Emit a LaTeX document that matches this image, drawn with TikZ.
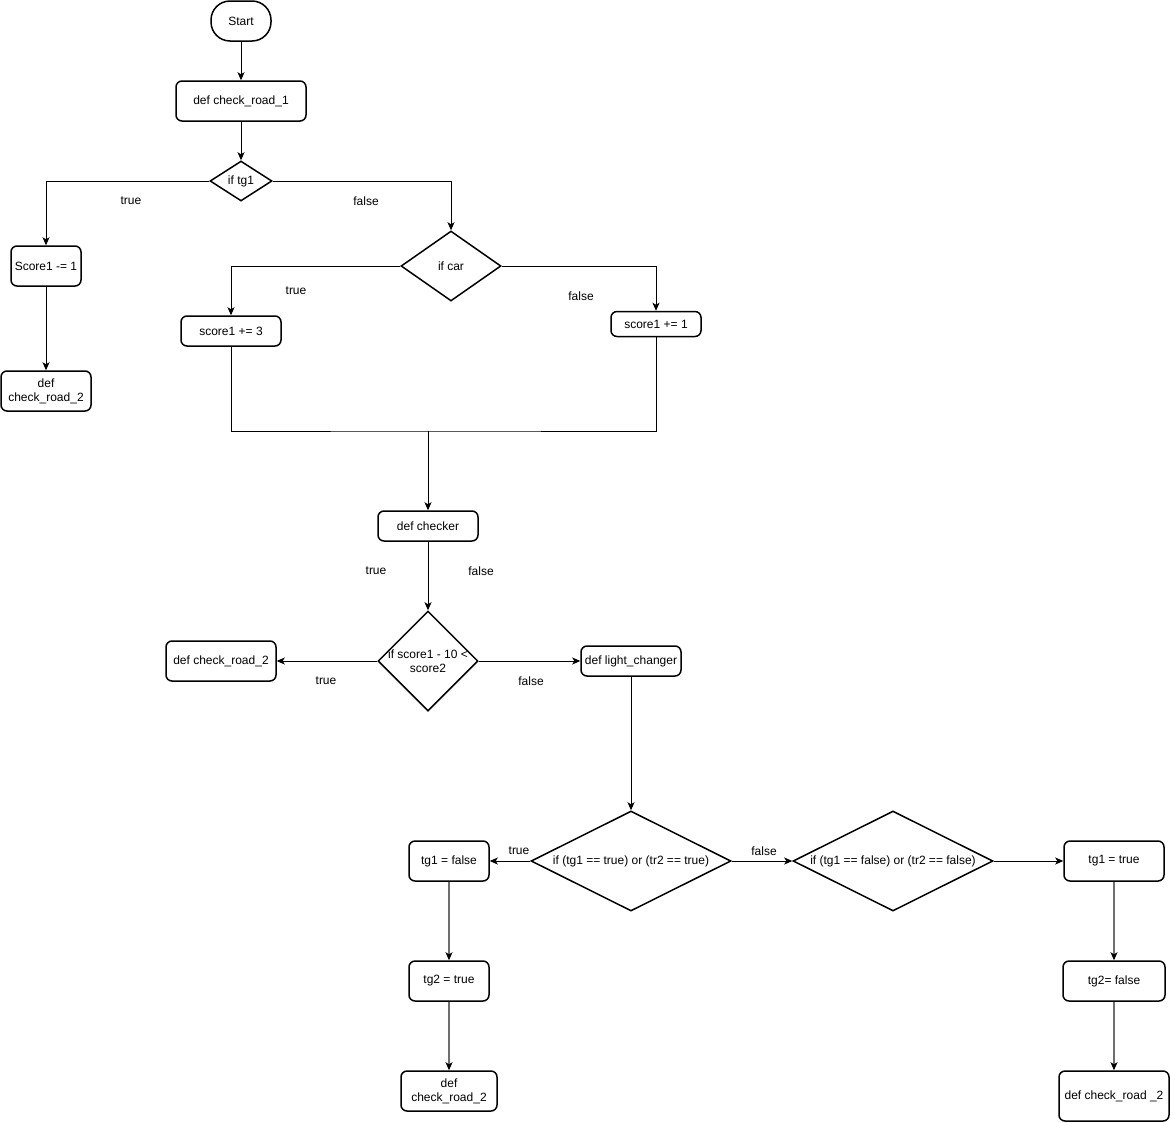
\documentclass[tikz,border=0pt]{standalone}
\usepackage{fontspec}
\setmainfont{Liberation Sans}
\usetikzlibrary{positioning, calc, arrows.meta, shapes.geometric}
\definecolor{Dark}{HTML}{000000}
\definecolor{Wire}{HTML}{6E6E6E}
\definecolor{White}{HTML}{FFFFFF}
\tikzset{
    termnode/.style={rectangle, rounded corners=19pt, draw=Dark, line width=1.5pt, minimum width=60pt, minimum height=40pt, inner sep=1pt},
    procnode/.style={rectangle, rounded corners=6pt, draw=Dark, line width=1.5pt, align=center, inner sep=1pt},
    decnode/.style={diamond, draw=Dark, line width=1.5pt, inner sep=0pt},
    tag/.style={text=Dark},
    arrow/.style={-{Stealth[length=8pt, width=7pt, inset=2pt]}, line width=1pt, color=Dark},
    greyarrow/.style={-{Stealth[length=8pt, width=7pt, inset=2pt, color=Dark]}, line width=1.2pt, color=Wire},
    wire/.style={line width=1pt, color=Dark},
}

\begin{document}
\begin{tikzpicture}[x=1pt, y=-1pt, font=\fontsize{12}{14}\selectfont]
    \useasboundingbox (0,0) rectangle (1170,1122);

    % Start and first road
    \node[termnode] (start) at (241,21) {Start};
    \node[procnode, minimum width=130pt, minimum height=40pt] (road1) at (241,101) {def check\_road\_1};
    \node[decnode, minimum width=62pt, minimum height=40pt, label=center:{if tg1}] (iftg) at (241,181) {};
    \node[tag] (t1) at (131,201) {true};
    \node[tag] (f1) at (366,201) {false};

    % Branch true
    \node[procnode, minimum width=70pt, minimum height=40pt] (dec1) at (46,266) {Score1 -= 1};
    \node[procnode, minimum width=90pt, minimum height=40pt] (road2a) at (46,391) {def\\check\_road\_2};

    % Branch false (car?)
    \node[decnode, minimum width=100pt, minimum height=70pt, label=center:{if car}] (ifcar) at (451,266) {};
    \node[tag] (t2) at (296,291) {true};
    \node[tag] (f2) at (581,296) {false};
    \node[procnode, minimum width=100pt, minimum height=30pt] (add3) at (231,331) {score1 += 3};
    \node[procnode, minimum width=90pt, minimum height=25pt] (add1) at (656,324) {score1 += 1};
    \coordinate (join) at (428,431);

    % Checker
    \node[procnode, minimum width=100pt, minimum height=30pt] (checker) at (428,526) {def checker};
    \node[tag] (t3) at (376,571) {true};
    \node[tag] (f3) at (481,571) {false};
    \node[decnode, minimum width=100pt, minimum height=100pt, label={[align=center]center:{if score1 - 10 <\\score2}}] (ifscore) at (428,661) {};
    \node[procnode, minimum width=110pt, minimum height=40pt] (road2b) at (221,661) {def check\_road\_2};
    \node[tag] (t4) at (326,681) {true};
    \node[tag] (f4) at (531,681) {false};
    \node[procnode, minimum width=100pt, minimum height=30pt] (light) at (631,661) {def light\_changer};

    % Light changer
    \node[decnode, minimum width=200pt, minimum height=100pt, label=center:{if (tg1 == true) or (tr2 == true)}] (iflight) at (631,861) {};
    \node[decnode, minimum width=200pt, minimum height=100pt, label=center:{if (tg1 == false) or (tr2 == false)}] (ifback) at (893,861) {};
    \node[tag] (t5) at (519,851) {true};
    \node[tag] (f5) at (764,851) {false};

    \node[procnode, minimum width=80pt, minimum height=40pt] (tgfalse) at (449,861) {tg1 = false};
    \node[procnode, minimum width=80pt, minimum height=40pt] (tgtrue) at (449,981) {tg2 = true};
    \node[procnode, minimum width=96pt, minimum height=40pt] (road2c) at (449,1091) {def\\check\_road\_2};

    \node[procnode, minimum width=100pt, minimum height=40pt] (tgon) at (1114,861) {tg1 = true};
    \node[procnode, minimum width=102pt, minimum height=40pt] (tgoff) at (1114,981) {tg2= false};
    \node[procnode, minimum width=110pt, minimum height=50pt] (road2d) at (1114,1096) {def check\_road \_2};

    % Connectors
    \draw[arrow] (start) -- (road1);
    \draw[arrow] (road1) -- (iftg);
    \draw[arrow] (iftg.west) -| (dec1.north);
    \draw[arrow] (iftg.east) -| (ifcar.north);
    \draw[arrow] (dec1) -- (road2a);
    \draw[arrow] (ifcar.west) -| (add3.north);
    \draw[arrow] (ifcar.east) -| (add1.north);
    \draw[wire] (add3.south) |- (join) -| (add1.south);
    \draw[arrow] (join) -- (checker);
    \draw[arrow] (checker) -- (ifscore);
    \draw[arrow] (ifscore.west) -- (road2b.east);
    \draw[arrow] (ifscore.east) -- (light.west);
    \draw[arrow] (light.south) -- (iflight.north);
    \draw[arrow] (iflight.west) -- (tgfalse.east);
    \draw[arrow] (iflight.east) -- (ifback.west);
    \draw[arrow] (ifback.east) -- (tgon.west);
    \draw[greyarrow] (tgfalse) -- (tgtrue);
    \draw[greyarrow] (tgtrue) -- (road2c);
    \draw[greyarrow] (tgon) -- (tgoff);
    \draw[greyarrow] (tgoff) -- (road2d);
\end{tikzpicture}
\end{document}
